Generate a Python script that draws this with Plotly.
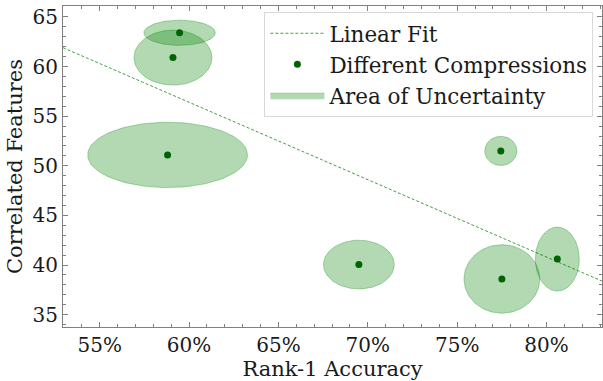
import numpy as np
import plotly.graph_objects as go

# Rank-1 accuracy (fraction) and number of correlated features per compression
accuracy = [0.5947, 0.5910, 0.5880, 0.7744, 0.6950, 0.7750, 0.8060]
features = [63.4, 60.9, 51.1, 51.5, 40.05, 38.6, 40.6]
# half-extent of the uncertainty region along each axis
accuracy_unc = [0.0200, 0.0218, 0.0447, 0.0090, 0.0198, 0.0212, 0.0123]
features_unc = [1.27, 2.77, 3.29, 1.47, 2.46, 3.45, 3.22]

x_ticks = [0.55, 0.60, 0.65, 0.70, 0.75, 0.80]
y_ticks = [35, 40, 45, 50, 55, 60, 65]
x_range = [0.5295, 0.8310]
y_range = [33.76, 66.1]

FONT = "DejaVu Serif"
fig = go.Figure()

# uncertainty ellipses
theta = np.linspace(0, 2 * np.pi, 120)
for i, (cx, cy, rx, ry) in enumerate(zip(accuracy, features, accuracy_unc, features_unc)):
    fig.add_trace(go.Scatter(
        x=cx + rx * np.cos(theta), y=cy + ry * np.sin(theta),
        mode="lines", fill="toself",
        fillcolor="rgba(0,128,0,0.3)",
        line=dict(color="rgba(0,128,0,0.3)", width=1),
        name="Area of Uncertainty", legendgroup="unc",
        showlegend=(i == 0), legendrank=3, hoverinfo="skip",
    ))

# least-squares linear fit across the full x range
slope, intercept = np.polyfit(accuracy, features, 1)
fx = np.array(x_range)
fig.add_trace(go.Scatter(
    x=fx, y=slope * fx + intercept, mode="lines",
    line=dict(color="rgba(0,128,0,0.75)", width=1, dash="3px,2px"),
    name="Linear Fit", legendrank=1,
))

fig.add_trace(go.Scatter(
    x=accuracy, y=features, mode="markers",
    marker=dict(color="#006400", size=7),
    name="Different Compressions", legendrank=2,
))

axis_common = dict(
    showgrid=False, zeroline=False, showline=True, linecolor="#808080",
    linewidth=1, mirror="ticks", ticks="inside", ticklen=5, tickwidth=1,
    tickcolor="#808080",
    tickfont=dict(family=FONT, size=20, color="#1a1a1a"),
)

fig.update_layout(
    width=603, height=381,
    margin=dict(l=63, r=1, t=6, b=54),
    plot_bgcolor="white", paper_bgcolor="white",
    font=dict(family=FONT, color="#1a1a1a"),
    xaxis=dict(
        **axis_common, range=x_range, tickvals=x_ticks, tickformat=".0%",
        minor=dict(ticks="inside", ticklen=3, dtick=0.01, tickcolor="#808080", showgrid=False),
        title=dict(text="Rank-1 Accuracy", font=dict(family=FONT, size=21), standoff=2),
    ),
    yaxis=dict(
        **axis_common, range=y_range, tickvals=y_ticks,
        minor=dict(ticks="inside", ticklen=3, dtick=1, tickcolor="#808080", showgrid=False),
        title=dict(text="Correlated Features", font=dict(family=FONT, size=21), standoff=4),
    ),
    legend=dict(
        x=0.984, y=0.982, xanchor="right", yanchor="top",
        bgcolor="rgba(255,255,255,0.8)", bordercolor="#d9d9d9", borderwidth=1,
        font=dict(family=FONT, size=21.5, color="#1a1a1a"),
        itemwidth=54, tracegroupgap=0,
    ),
)

fig.write_html("out.html")
